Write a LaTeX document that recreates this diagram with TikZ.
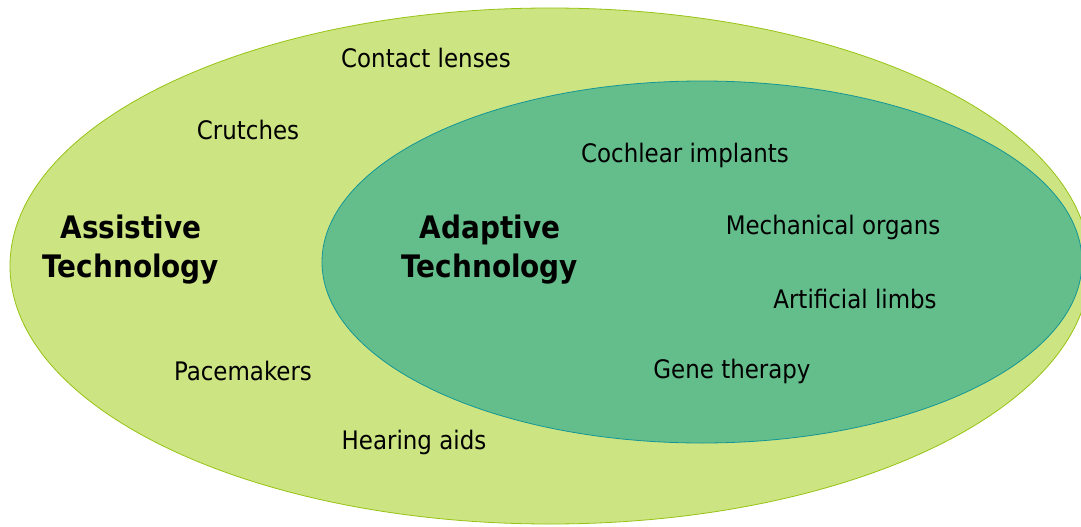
\documentclass[tikz,border=0pt]{standalone}
\usepackage{fontspec}
\setmainfont{DejaVu Sans Condensed}
\usetikzlibrary{positioning}
\definecolor{color1}{RGB}{205, 228, 130}
\definecolor{color2}{RGB}{150, 195, 20}
\definecolor{color3}{RGB}{100, 190, 140}
\definecolor{color4}{RGB}{20, 150, 150}
\tikzstyle{item} = [font=\fontsize{25.5}{30}\selectfont, inner sep=0pt]
\tikzstyle{head} = [font=\fontsize{31}{39}\selectfont\bfseries, align=center, inner sep=0pt]
\tikzstyle{outer} = [draw=color2, fill=color1, line width=0.8pt]
\tikzstyle{inner} = [draw=color4, fill=color3, line width=0.8pt]

\begin{document}
\begin{tikzpicture}[x=1pt, y=-1pt]

  \useasboundingbox (0,0) rectangle (1081,527);
  \clip (0,0) rectangle (1081,527);

  % ============================ Assistive =====================================

  \draw[outer] (550,266) ellipse [x radius=540, y radius=258];
  \node[head] (at) at (131,250) {Assistive\\Technology};
  \node[item] (cl) at (426,58) {Contact lenses};
  \node[item] (cr) at (248,130) {Crutches};
  \node[item] (pm) at (243,371) {Pacemakers};
  \node[item] (ha) at (414,442) {Hearing aids};

  % ============================= Adaptive =====================================

  \draw[inner] (702,262) ellipse [x radius=380, y radius=181];
  \node[head] (adt) at (490,250) {Adaptive\\Technology};
  \node[item] (ci) at (685,155) {Cochlear implants};
  \node[item] (mo) at (833,227) {Mechanical organs};
  \node[item] (al) at (855,299) {Artificial limbs};
  \node[item] (gt) at (732,371) {Gene therapy};

\end{tikzpicture}
\end{document}
